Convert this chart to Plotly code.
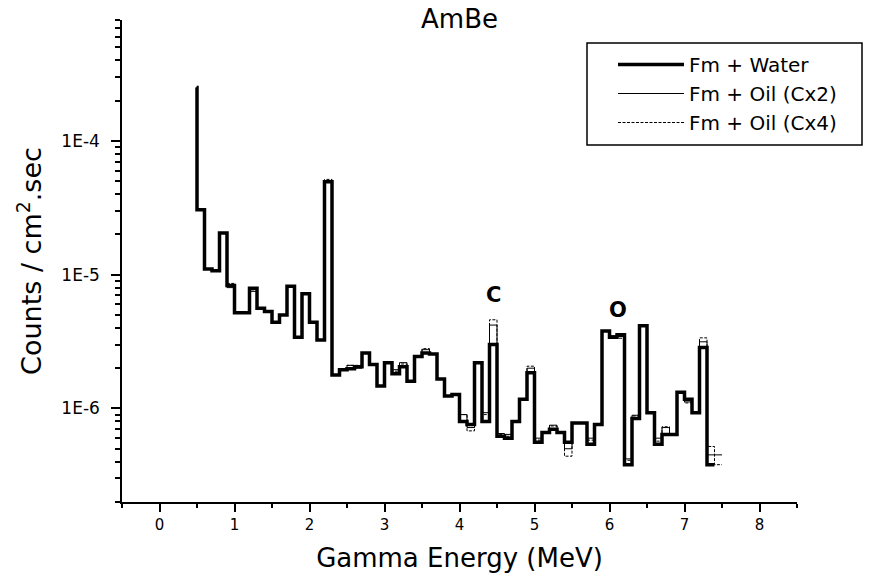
import plotly.graph_objects as go
import math

# ---- data ----
# bin start energies (MeV); last entry is the end of the last bin
energy_edges = [0.495, 0.5, 0.6, 0.7, 0.8, 0.9, 1.0, 1.1, 1.2, 1.3, 1.4, 1.5, 1.6, 1.7, 1.8, 1.9,
                2.0, 2.1, 2.2, 2.3, 2.4, 2.5, 2.6, 2.7, 2.8, 2.9, 3.0, 3.1, 3.2, 3.3, 3.4, 3.5,
                3.6, 3.7, 3.8, 3.9, 4.0, 4.1, 4.2, 4.3, 4.4, 4.5, 4.6, 4.7, 4.8, 4.9, 5.0, 5.1,
                5.2, 5.3, 5.4, 5.5, 5.6, 5.7, 5.8, 5.9, 6.0, 6.1, 6.2, 6.3, 6.4, 6.5, 6.6, 6.7,
                6.8, 6.9, 7.0, 7.1, 7.2, 7.3, 7.4, 7.5]

water = [2.5e-4, 3.05e-5, 1.10e-5, 1.07e-5, 2.05e-5, 8.3e-6, 5.2e-6, 5.2e-6, 7.9e-6, 5.6e-6,
         5.3e-6, 4.4e-6, 5.0e-6, 8.2e-6, 3.4e-6, 7.2e-6, 4.4e-6, 3.25e-6, 4.95e-5, 1.78e-6,
         1.95e-6, 1.98e-6, 2.05e-6, 2.6e-6, 2.13e-6, 1.47e-6, 2.2e-6, 1.82e-6, 2.05e-6, 1.6e-6,
         2.45e-6, 2.6e-6, 2.55e-6, 1.66e-6, 1.24e-6, 1.27e-6, 8.0e-7, 7.6e-7, 2.2e-6, 8.0e-7,
         3.0e-6, 6.2e-7, 6.0e-7, 8.0e-7, 1.17e-6, 1.85e-6, 5.6e-7, 6.6e-7, 7.0e-7, 6.6e-7,
         5.6e-7, 7.8e-7, 7.8e-7, 5.4e-7, 7.6e-7, 3.8e-6, 3.4e-6, 3.55e-6, 3.8e-7, 8.4e-7,
         4.15e-6, 9.3e-7, 5.4e-7, 6.4e-7, 6.4e-7, 1.32e-6, 1.17e-6, 9.3e-7, 2.85e-6, 3.8e-7]

oil_cx2 = [2.5e-4, 3.05e-5, 1.10e-5, 1.07e-5, 2.05e-5, 8.0e-6, 5.2e-6, 5.2e-6, 7.5e-6, 5.6e-6,
           5.3e-6, 4.4e-6, 5.0e-6, 8.2e-6, 3.4e-6, 7.2e-6, 4.4e-6, 3.25e-6, 5.05e-5, 1.78e-6,
           1.95e-6, 2.1e-6, 2.0e-6, 2.6e-6, 2.13e-6, 1.47e-6, 2.2e-6, 1.95e-6, 2.2e-6, 1.6e-6,
           2.45e-6, 2.75e-6, 2.55e-6, 1.66e-6, 1.24e-6, 1.27e-6, 9.0e-7, 7.2e-7, 2.2e-6, 9.3e-7,
           4.2e-6, 6.5e-7, 6.4e-7, 8.0e-7, 1.17e-6, 2.0e-6, 6.0e-7, 6.6e-7, 7.5e-7, 6.6e-7,
           5.0e-7, 7.8e-7, 7.8e-7, 6.0e-7, 7.6e-7, 3.8e-6, 3.5e-6, 3.45e-6, 4.2e-7, 8.9e-7,
           4.15e-6, 9.3e-7, 6.0e-7, 7.2e-7, 6.4e-7, 1.32e-6, 1.12e-6, 9.3e-7, 3.15e-6, 4.5e-7,
           4.5e-7]

oil_cx4 = [2.5e-4, 3.05e-5, 1.10e-5, 1.07e-5, 2.05e-5, 8.6e-6, 5.2e-6, 5.2e-6, 7.7e-6, 5.6e-6,
           5.3e-6, 4.4e-6, 5.0e-6, 8.2e-6, 3.4e-6, 7.2e-6, 4.4e-6, 3.25e-6, 5.15e-5, 1.78e-6,
           1.95e-6, 2.1e-6, 2.1e-6, 2.6e-6, 2.13e-6, 1.47e-6, 2.2e-6, 1.9e-6, 2.15e-6, 1.6e-6,
           2.45e-6, 2.8e-6, 2.55e-6, 1.66e-6, 1.24e-6, 1.27e-6, 9.0e-7, 6.8e-7, 2.2e-6, 9.0e-7,
           4.6e-6, 6.4e-7, 6.2e-7, 8.0e-7, 1.17e-6, 2.07e-6, 5.8e-7, 6.6e-7, 7.4e-7, 6.6e-7,
           4.4e-7, 7.8e-7, 7.8e-7, 5.8e-7, 7.6e-7, 3.8e-6, 3.45e-6, 3.35e-6, 4.1e-7, 8.8e-7,
           4.15e-6, 9.3e-7, 5.7e-7, 7.3e-7, 6.4e-7, 1.32e-6, 1.1e-6, 9.3e-7, 3.37e-6, 5.2e-7,
           3.8e-7]

x_ticks = [0, 1, 2, 3, 4, 5, 6, 7, 8]
y_ticks = [1e-6, 1e-5, 1e-4]
y_ticktext = ["1E-6", "1E-5", "1E-4"]
peak_labels = [("C", 4.45, 7.0e-6), ("O", 6.11, 5.4e-6)]


def steps(vals):
    xs = energy_edges[:len(vals) + 1]
    ys = list(vals) + [vals[-1]]
    return xs, ys


FONT = "DejaVu Sans"
fig = go.Figure()

for name, vals, width, dash in [("Fm + Water", water, 3.5, "solid"),
                                ("Fm + Oil (Cx2)", oil_cx2, 1.0, "solid"),
                                ("Fm + Oil (Cx4)", oil_cx4, 1.0, "3px,1.5px")]:
    xs, ys = steps(vals)
    fig.add_trace(go.Scatter(x=xs, y=ys, mode="lines", name=name,
                             line=dict(shape="hv", color="black", width=width, dash=dash)))

minor_y = [m * 10 ** e for e in range(-7, -3) for m in range(2, 10)
           if 2e-7 <= m * 10 ** e <= 8.01e-4]

fig.update_layout(
    width=870, height=581,
    margin=dict(l=122, r=73, t=20, b=79),
    paper_bgcolor="white", plot_bgcolor="white",
    font=dict(family=FONT, color="black"),
    title=dict(text="AmBe", x=0.5, xref="paper", xanchor="center",
               y=1 - 19 / 581, yref="container", yanchor="middle",
               font=dict(size=26, family=FONT, color="black")),
    showlegend=True,
    legend=dict(x=(587 - 122) / 675, xanchor="left", y=(502 - 45) / 482, yanchor="top",
                bgcolor="rgba(0,0,0,0)", borderwidth=0,
                font=dict(size=20, family=FONT, color="black"),
                itemwidth=66, indentation=26, tracegroupgap=0),
    shapes=[dict(type="rect", xref="paper", yref="paper",
                 x0=(587 - 122) / 675, x1=(862 - 122) / 675,
                 y0=(502 - 145) / 482, y1=(502 - 43) / 482,
                 line=dict(color="black", width=1.5), fillcolor="rgba(0,0,0,0)")],
)

fig.update_xaxes(range=[-0.5, 8.5], tickvals=x_ticks, ticks="outside", ticklen=8, tickwidth=1.5,
                 tickcolor="black", showline=True, linecolor="black", linewidth=1.5,
                 showgrid=False, zeroline=False, tickfont=dict(size=15, family=FONT),
                 minor=dict(tickvals=[i + 0.5 for i in range(-1, 9)], ticks="outside", ticklen=4,
                            tickwidth=1.5, tickcolor="black", showgrid=False),
                 title=dict(text="Gamma Energy (MeV)", font=dict(size=26, family=FONT), standoff=16))

fig.update_yaxes(type="log", range=[math.log10(2e-7), math.log10(8e-4)],
                 tickvals=y_ticks, ticktext=y_ticktext, ticks="outside", ticklen=9, tickwidth=1.5,
                 tickcolor="black", showline=True, linecolor="black", linewidth=1.5,
                 showgrid=False, zeroline=False, tickfont=dict(size=17, family=FONT),
                 ticklabelstandoff=8,
                 minor=dict(tickvals=minor_y, ticks="outside", ticklen=5, tickwidth=1.5,
                            tickcolor="black", showgrid=False),
                 title=dict(text="Counts / cm<sup>2</sup>.sec", font=dict(size=27, family=FONT),
                            standoff=12))

for txt, xv, yv in peak_labels:
    fig.add_annotation(x=xv, y=math.log10(yv), text="<b>%s</b>" % txt, showarrow=False,
                       font=dict(size=21, family=FONT, color="black"))

fig.write_html("out.html")
